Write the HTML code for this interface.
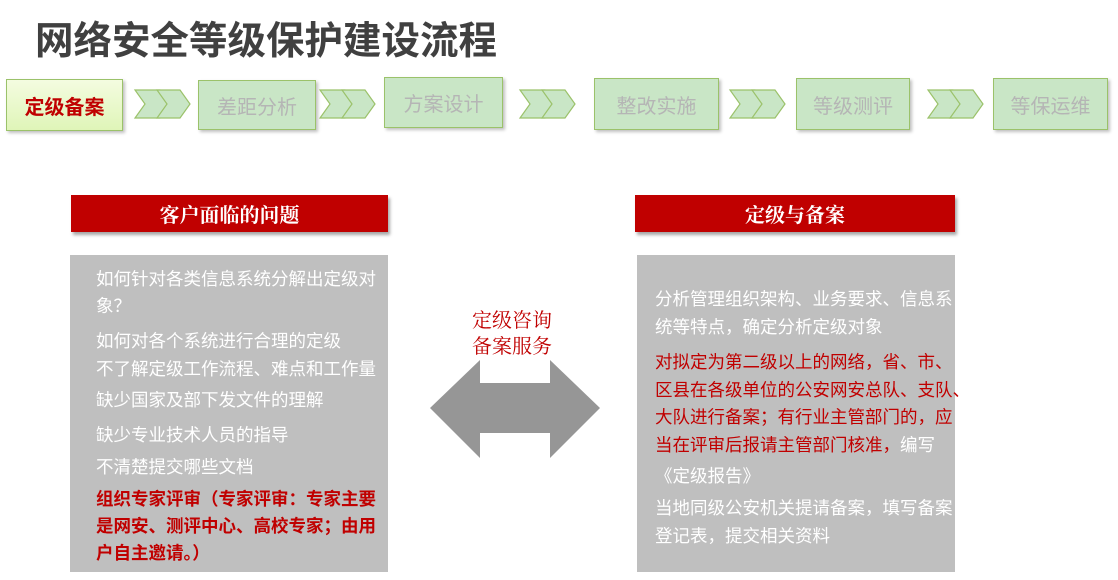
<!DOCTYPE html>
<html><head><meta charset="utf-8"><style>
body{margin:0;width:1118px;height:580px;background:#fff;position:relative;overflow:hidden;font-family:"Liberation Sans","Noto Sans CJK SC",sans-serif}
.a{position:absolute;white-space:nowrap}
.step{position:absolute;background:#c9e6c6;border:1.5px solid #9bc26a;box-shadow:2px 2px 3px rgba(0,0,0,.25);color:#b5b5b5;font-size:20px;display:flex;align-items:center;justify-content:center;box-sizing:border-box}
.hdr{position:absolute;background:#c00000;color:#fff;font-family:"Noto Serif CJK SC",serif;font-weight:bold;font-size:20px;display:flex;align-items:center;justify-content:center;box-shadow:2px 3px 3px rgba(0,0,0,.35);height:37px;top:195px}
.gray{position:absolute;background:#bfbfbf;top:255px;height:317px}
.t{position:absolute;white-space:nowrap;font-size:17.5px;color:#fff}
.r{color:#c00000}
</style></head><body>
<div class="a" style="left:35px;top:10px;font-size:38.5px;font-weight:bold;color:#404040">网络安全等级保护建设流程</div>

<div class="step" style="left:6px;top:79px;width:117px;height:52px;background:linear-gradient(#f4fce0,#dff5b8);color:#c00000;font-weight:bold;font-size:20px">定级备案</div>
<div class="step" style="left:198px;top:80px;width:118px;height:50px">差距分析</div>
<div class="step" style="left:384px;top:77px;width:119px;height:51px">方案设计</div>
<div class="step" style="left:594px;top:78px;width:125px;height:52px">整改实施</div>
<div class="step" style="left:796px;top:78px;width:114px;height:52px">等级测评</div>
<div class="step" style="left:993px;top:78px;width:115px;height:52px">等保运维</div>

<svg class="a" style="left:0;top:0" width="1118" height="580">
<g fill="#c9e6c6" stroke="#9bc26a" stroke-width="1.2">
<g id="ch"><polygon points="135,90 160,90 170,104 160,118 135,118 145,104"/><polygon points="157,90 180,90 190,104 180,118 157,118 167,104"/></g>
<use href="#ch" x="185"/><use href="#ch" x="385"/><use href="#ch" x="595"/><use href="#ch" x="793"/>
</g>
<polygon fill="#969696" points="430,408 480,360 480,383 550,383 550,360 600,408 550,458 550,433 480,433 480,458"/>
</svg>

<div class="hdr" style="left:71px;width:317px">客户面临的问题</div>
<div class="hdr" style="left:635px;width:320px">定级与备案</div>

<div class="gray" style="left:70px;width:318px"></div>
<div class="gray" style="left:637px;width:318px"></div>

<div class="t" style="left:96px;top:266px">如何针对各类信息系统分解出定级对</div>
<div class="t" style="left:96px;top:293px">象？</div>
<div class="t" style="left:96px;top:328px">如何对各个系统进行合理的定级</div>
<div class="t" style="left:96px;top:356px">不了解定级工作流程、难点和工作量</div>
<div class="t" style="left:96px;top:387px">缺少国家及部下发文件的理解</div>
<div class="t" style="left:96px;top:422px">缺少专业技术人员的指导</div>
<div class="t" style="left:96px;top:454px">不清楚提交哪些文档</div>
<div class="t r" style="left:96px;top:486px;font-weight:bold">组织专家评审（专家评审：专家主要</div>
<div class="t r" style="left:96px;top:513px;font-weight:bold">是网安、测评中心、高校专家；由用</div>
<div class="t r" style="left:96px;top:540px;font-weight:bold">户自主邀请。）</div>

<div class="a" style="left:472px;top:306px;font-size:20px;color:#c00000;line-height:26px;font-family:'Noto Serif CJK SC',serif">定级咨询<br>备案服务</div>

<div class="t" style="left:655px;top:286px">分析管理组织架构、业务要求、信息系</div>
<div class="t" style="left:655px;top:314px">统等特点，确定分析定级对象</div>
<div class="t r" style="left:655px;top:349px">对拟定为第二级以上的网络，省、市、</div>
<div class="t r" style="left:655px;top:377px">区县在各级单位的公安网安总队、支队、</div>
<div class="t r" style="left:655px;top:404px">大队进行备案；有行业主管部门的，应</div>
<div class="t" style="left:655px;top:432px"><span class="r">当在评审后报请主管部门核准，</span>编写</div>
<div class="t" style="left:655px;top:463px">《定级报告》</div>
<div class="t" style="left:655px;top:495px">当地同级公安机关提请备案，填写备案</div>
<div class="t" style="left:655px;top:523px">登记表，提交相关资料</div>
</body></html>
